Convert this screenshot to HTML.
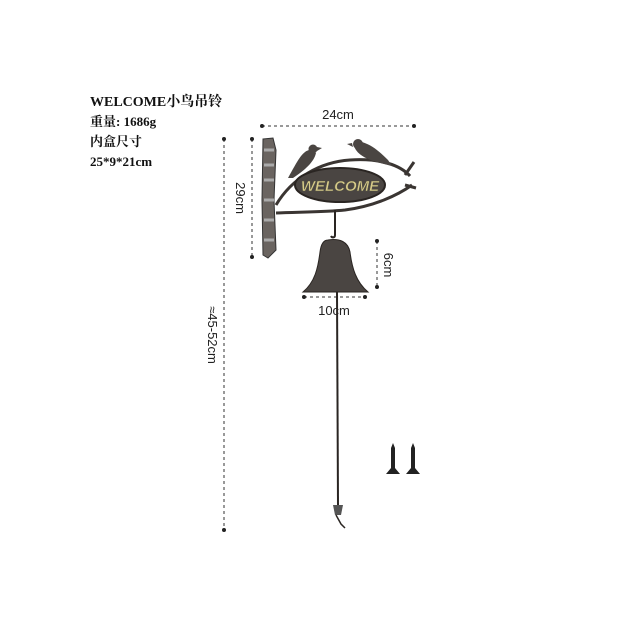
<!DOCTYPE html>
<html><head><meta charset="utf-8"><style>
html,body{margin:0;padding:0;background:#fff;}
svg{display:block}
</style></head><body>
<svg width="640" height="640" viewBox="0 0 640 640" xmlns="http://www.w3.org/2000/svg">
<rect width="640" height="640" fill="#fff"/>
<g font-family="'Liberation Serif','Noto Serif CJK SC',serif" font-weight="bold" fill="#111">
<text x="90" y="106" font-size="14">WELCOME小鸟吊铃</text>
<text x="90" y="126" font-size="13">重量:  1686g</text>
<text x="90" y="146" font-size="13">内盒尺寸</text>
<text x="90" y="166" font-size="13">25*9*21cm</text>
</g>
<g stroke="#333" stroke-width="1" stroke-dasharray="3,3" fill="none">
<line x1="262" y1="126" x2="414" y2="126"/>
<line x1="252" y1="139" x2="252" y2="257"/>
<line x1="224" y1="139" x2="224" y2="530"/>
<line x1="377" y1="241" x2="377" y2="287"/>
<line x1="304" y1="297" x2="365" y2="297"/>
</g>
<g fill="#222">
<circle cx="262" cy="126" r="2"/><circle cx="414" cy="126" r="2"/>
<circle cx="252" cy="139" r="2"/><circle cx="252" cy="257" r="2"/>
<circle cx="224" cy="139" r="2"/><circle cx="224" cy="530" r="2"/>
<circle cx="377" cy="241" r="2"/><circle cx="377" cy="287" r="2"/>
<circle cx="304" cy="297" r="2"/><circle cx="365" cy="297" r="2"/>
</g>
<g font-family="'Liberation Sans',sans-serif" font-size="13" fill="#222">
<text x="338" y="119" text-anchor="middle">24cm</text>
<text x="0" y="0" text-anchor="middle" transform="translate(236,198) rotate(90)">29cm</text>
<text x="0" y="0" text-anchor="middle" transform="translate(208,335) rotate(90)">≈45-52cm</text>
<text x="0" y="0" text-anchor="middle" transform="translate(384,265) rotate(90)">6cm</text>
<text x="334" y="315" text-anchor="middle">10cm</text>
</g>
<path d="M263,139 L273,138 L276,150 L274,200 L276,250 L268,258 L263,255 L262,200 Z" fill="#6a6460" stroke="#333"/>
<path d="M264,150h10M264,165h10M264,180h10M264,200h10M264,220h10M264,240h10" stroke="#aaa" stroke-width="3"/>
<path d="M276,205 C292,178 320,162 350,160 C380,158 400,165 410,176" stroke="#3a3532" stroke-width="3" fill="none"/>
<path d="M276,213 C300,212 325,212 345,210 C375,206 398,195 412,185" stroke="#3a3532" stroke-width="3" fill="none"/>
<path d="M405,175 L414,162 M405,185 L416,188" stroke="#3a3532" stroke-width="3"/>
<ellipse cx="340" cy="185" rx="45" ry="17" fill="#4a4542" stroke="#2a2522" stroke-width="2"/>
<text x="340" y="191" text-anchor="middle" font-family="'Liberation Sans',sans-serif" font-weight="bold" font-style="italic" font-size="15" fill="#d9cc8a" stroke="#554" stroke-width="0.5">WELCOME</text>
<g fill="#4a4542">
<circle cx="313" cy="149" r="4.5"/>
<path d="M317,147 L322,148 L317,151 Z"/>
<path d="M309,150 C302,152 298,160 288,178 L293,178 C305,170 314,162 316,153 Z"/>
<circle cx="358" cy="144" r="5"/>
<path d="M352,143 L347,144 L353,147 Z"/>
<path d="M354,146 C358,158 375,162 392,166 L388,160 C380,152 372,145 362,142 Z"/>
</g>
<path d="M335,210 L335,235 C335,238 332,238 331,236" stroke="#2a2522" stroke-width="2" fill="none"/>
<path d="M328,240 C340,238 348,242 350,252 C352,268 356,282 368,292 L303,292 C315,282 318,268 320,252 C321,244 324,240 328,240 Z" fill="#4a4542" stroke="#2a2522"/>
<path d="M337,292 L338,505" stroke="#2a2522" stroke-width="2"/>
<path d="M333,505 L343,505 L341,515 L335,515 Z" fill="#555"/>
<path d="M336,515 L341,524 L345,528" stroke="#2a2522" stroke-width="1.5" fill="none"/>
<path d="M393,443 L395,448 L395,468 L400,474 L386,474 L391,468 L391,448 Z" fill="#222"/>
<path d="M413,443 L415,448 L415,468 L420,474 L406,474 L411,468 L411,448 Z" fill="#222"/>
</svg>
</body></html>
